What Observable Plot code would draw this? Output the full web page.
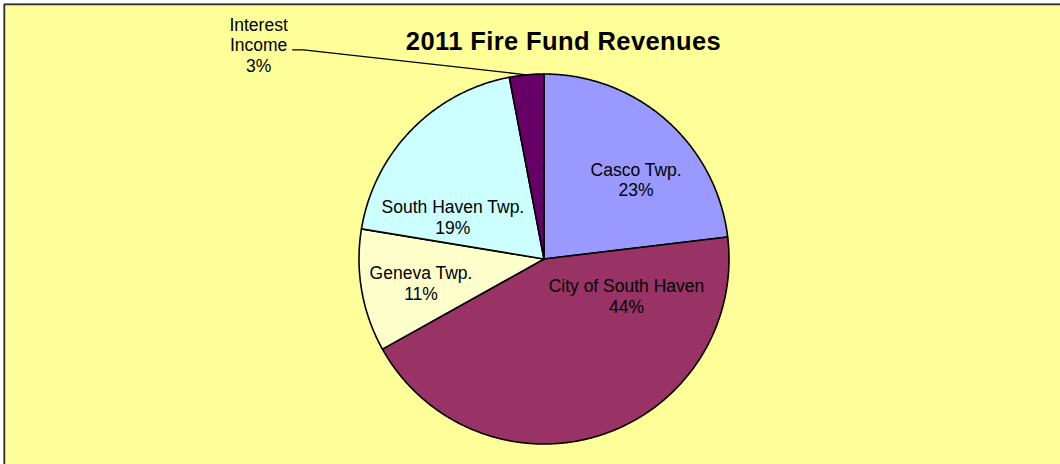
<!DOCTYPE html>
<html><head><meta charset="utf-8">
<script src="https://cdn.jsdelivr.net/npm/d3@7"></script>
<script src="https://cdn.jsdelivr.net/npm/@observablehq/plot@0.6"></script>
<style>
body{margin:0;background:#fff}
#chart svg > g:last-of-type text{letter-spacing:0.4px}
</style>
</head><body><div id="chart"></div>
<script>
// ---- data ----
const title = "2011 Fire Fund Revenues";
const categories = ["Casco Twp.", "City of South Haven", "Geneva Twp.", "South Haven Twp.", "Interest Income"];
const labelNames = ["Casco Twp.", "City of South Haven", "Geneva Twp.", "South Haven Twp.", "Interest\nIncome"];
const shares = [23.1, 43.8, 10.7, 19.4, 3.0];
const colors = ["#9999FF", "#993366", "#FFFFCC", "#CCFFFF", "#660066"];

// ---- layout (not data) ----
const W = 1060, H = 464, ML = 4, MT = 4;
const R = 185, CX = 543.5, CY = 258.5;       // pie centre / radius in px
const labelRadius = 0.62;
// pixel nudges of each label from its computed anchor (Excel best-fit placement)
const nudges = [[16, 6], [47, -72], [-10, 4], [-9, 38], [-268, -30]];
const outside = [false, false, false, false, true];

const rows = categories.map((c, i) => ({name: c, label: labelNames[i], value: shares[i], color: colors[i], i}));
const arcs = d3.pie().sort(null).value(d => d.value)(rows);

// slice outlines in unit coordinates (y up)
const poly = [];
for (const a of arcs) {
  const n = Math.max(2, Math.ceil((a.endAngle - a.startAngle) / (Math.PI / 360)));
  poly.push({name: a.data.name, color: a.data.color, x: 0, y: 0});
  for (let k = 0; k <= n; k++) {
    const t = a.startAngle + (a.endAngle - a.startAngle) * k / n;
    poly.push({name: a.data.name, color: a.data.color, x: Math.sin(t), y: Math.cos(t)});
  }
  poly.push({name: a.data.name, color: a.data.color, x: 0, y: 0});
}

const labels = arcs.map(a => {
  const m = (a.startAngle + a.endAngle) / 2;
  const i = a.data.i;
  const rr = outside[i] ? 1 : labelRadius;
  return {
    text: a.data.label + "\n" + Math.round(a.data.value) + "%",
    ax: Math.sin(m), ay: Math.cos(m),
    x: rr * Math.sin(m) + nudges[i][0] / R,
    y: rr * Math.cos(m) - nudges[i][1] / R,
    outside: outside[i]
  };
});

// leader line for outside labels
const leaders = [];
labels.filter(d => d.outside).forEach((d, j) => {
  leaders.push({id: j, x: d.ax, y: d.ay});
  leaders.push({id: j, x: d.x + 45 / R, y: d.y - 5 / R});
  leaders.push({id: j, x: d.x + 34 / R, y: d.y - 5 / R});
});

const xDom = [(ML - CX) / R, (W - CX) / R];
const yDom = [(CY - H) / R, (CY - MT) / R];

const font = "'Liberation Sans', Arial, Helvetica, sans-serif";

const chart = Plot.plot({
  width: W, height: H,
  marginLeft: ML, marginTop: MT, marginRight: 0, marginBottom: 0,
  x: {domain: xDom, axis: null},
  y: {domain: yDom, axis: null},
  color: {type: "identity"},
  style: {background: "white", fontFamily: font},
  marks: [
    Plot.frame({fill: "#FFFF99", stroke: null}),
    Plot.ruleY([yDom[1]], {stroke: "#999", strokeWidth: 1, dy: -1}),
    Plot.ruleY([yDom[1]], {stroke: "#333", strokeWidth: 1.5}),
    Plot.ruleX([xDom[0]], {stroke: "#999", strokeWidth: 1, dx: -1}),
    Plot.ruleX([xDom[0]], {stroke: "#333", strokeWidth: 1.5}),
    Plot.line(poly, {x: "x", y: "y", z: "name", fill: "color", stroke: "black", strokeWidth: 1.6, strokeLinejoin: "round", curve: "linear"}),
    Plot.line(leaders, {x: "x", y: "y", z: "id", stroke: "black", strokeWidth: 1.3}),
    Plot.text(labels, {x: "x", y: "y", text: "text", fill: "black", fontSize: 17.5, lineHeight: 1.17, lineAnchor: "middle", textAnchor: "middle"}),
    Plot.text([title], {frameAnchor: "top", dx: 31, dy: 27, fontSize: 25.5, fontWeight: "bold", fill: "black"})
  ]
});
document.getElementById("chart").appendChild(chart);
</script>
</body></html>
